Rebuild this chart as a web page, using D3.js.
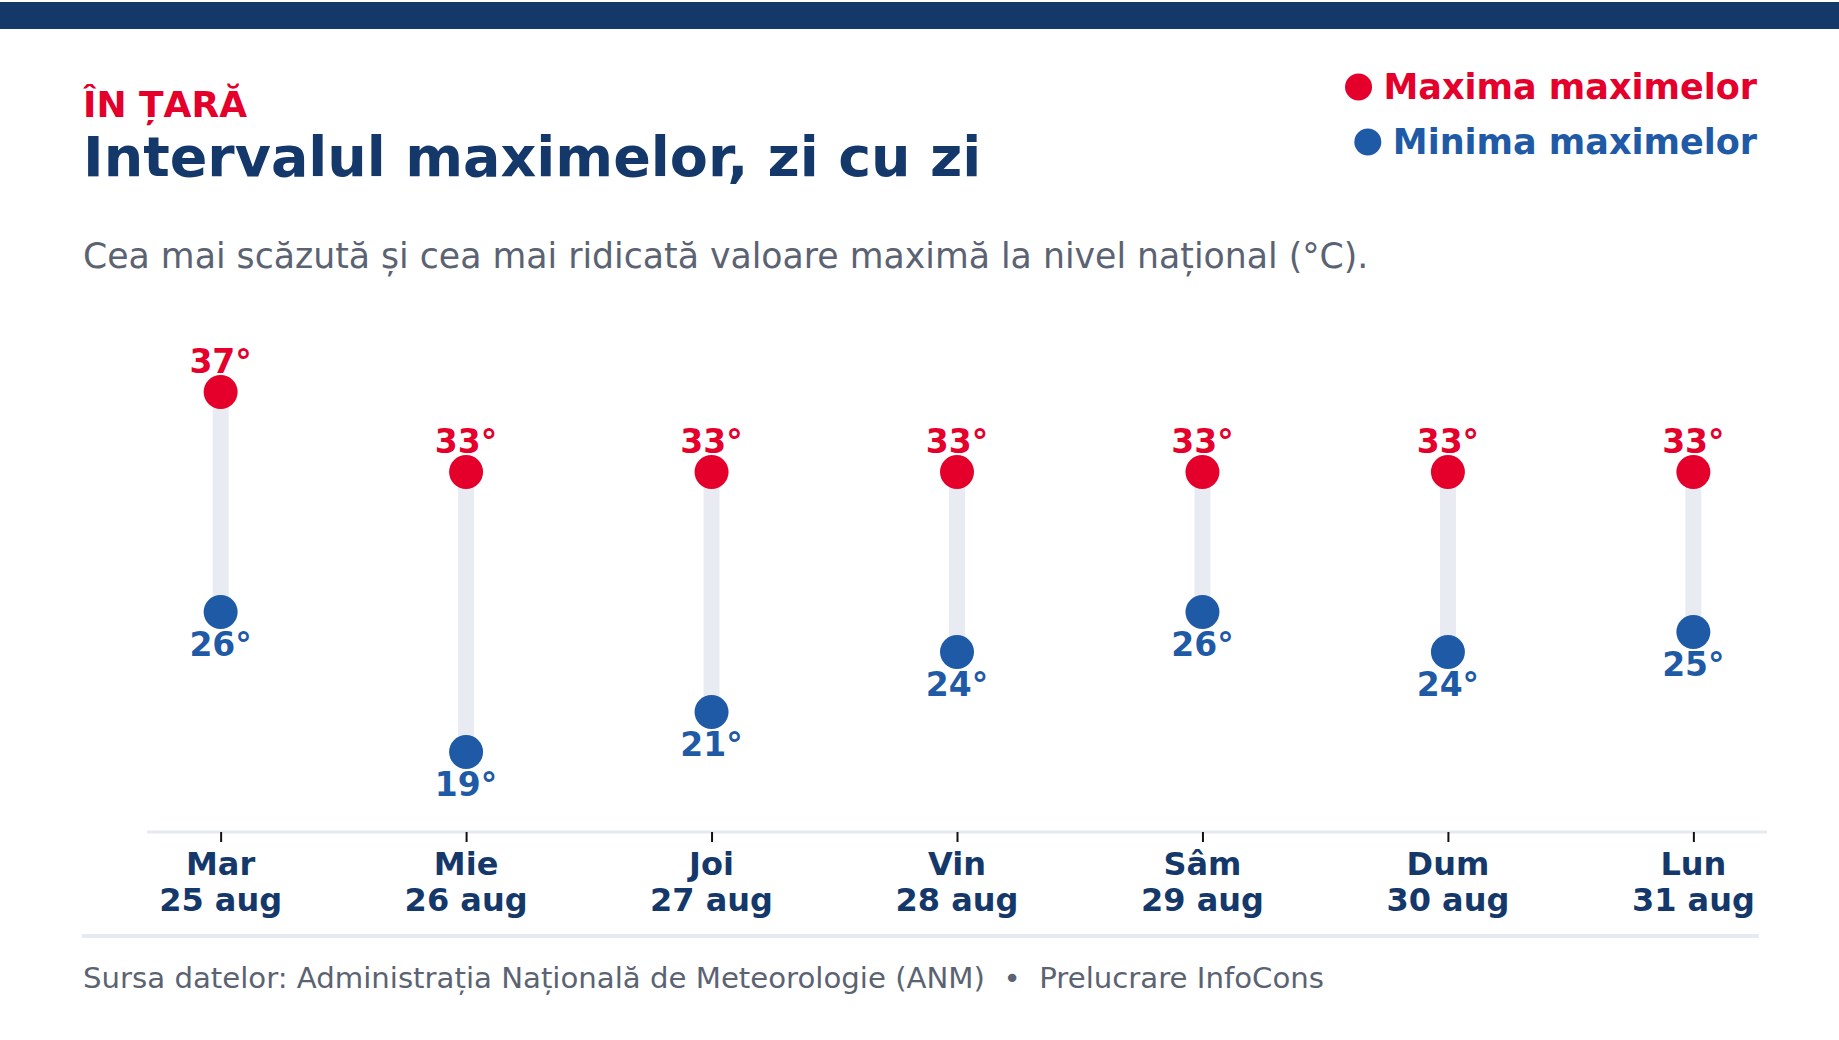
<!DOCTYPE html>
<html>
<head>
<meta charset="utf-8">
<script src="https://cdn.jsdelivr.net/npm/d3@7"></script>
<style>
  body { margin: 0; background: #fff; }
  svg { display: block; font-family: "DejaVu Sans", sans-serif; }
</style>
</head>
<body>
<svg id="canvas" width="1839" height="1040"></svg>
<script>
// data
let days = ["Mar", "Mie", "Joi", "Vin", "Sâm", "Dum", "Lun"];
let dates = ["25 aug", "26 aug", "27 aug", "28 aug", "29 aug", "30 aug", "31 aug"];
let maxTemps = [37, 33, 33, 33, 33, 33, 33];
let minTemps = [26, 19, 21, 24, 26, 24, 25];

let red = "#e4002b", blue = "#1f5aa6", navy = "#15386b", grey = "#5b6373";

let canvas = d3.select("#canvas");

// top band
canvas.append("rect")
    .attr("x", 0).attr("y", 2)
    .attr("width", 1839).attr("height", 27)
    .attr("fill", navy);

// headings
canvas.append("text")
    .attr("x", 83).attr("y", 117)
    .attr("fill", red).style("font-size", "36px").style("font-weight", "bold")
    .text("ÎN ȚARĂ");
canvas.append("text")
    .attr("x", 83).attr("y", 176)
    .attr("fill", navy).style("font-size", "55.5px").style("font-weight", "bold")
    .text("Intervalul maximelor, zi cu zi");
canvas.append("text")
    .attr("x", 83).attr("y", 268)
    .attr("fill", grey).style("font-size", "34.7px")
    .text("Cea mai scăzută și cea mai ridicată valoare maximă la nivel național (°C).");

// legend
let legend = [
    { label: "Maxima maximelor", color: red, y: 99 },
    { label: "Minima maximelor", color: blue, y: 154 }
];
legend.forEach((l) => {
    let t = canvas.append("text")
        .attr("x", 1757).attr("y", l.y)
        .attr("text-anchor", "end")
        .attr("fill", l.color).style("font-size", "35px").style("font-weight", "bold")
        .text(l.label);
    let w = t.node().getComputedTextLength();
    canvas.append("circle")
        .attr("cx", 1757 - w - 25).attr("cy", l.y - 12)
        .attr("r", 13.5)
        .attr("fill", l.color);
});

// scales
let x = d3.scalePoint()
    .domain(days)
    .range([147, 1767])
    .padding(0.3);

let y = d3.scaleLinear()
    .domain([15, 40])
    .range([832, 332]);

let rows = days.map((d, i) => ({ day: d, date: dates[i], hi: maxTemps[i], lo: minTemps[i] }));

// stems
canvas.append("g").selectAll("line")
    .data(rows)
    .join("line")
    .attr("x1", (d) => x(d.day)).attr("x2", (d) => x(d.day))
    .attr("y1", (d) => y(d.hi)).attr("y2", (d) => y(d.lo))
    .attr("stroke", "#e8ebf2").attr("stroke-width", 16);

// x axis
let xAxis = canvas.append("g")
    .attr("transform", "translate(0,832)")
    .call(d3.axisBottom(x).tickSize(10).tickFormat(""));
xAxis.select(".domain").attr("stroke", "#e6e9ef").attr("stroke-width", 3)
    .attr("d", "M147,0H1767");
xAxis.selectAll(".tick line").attr("stroke", "#111").attr("stroke-width", 2);

let labels = canvas.append("g").selectAll("text")
    .data(rows)
    .join("text")
    .attr("x", (d) => x(d.day))
    .attr("text-anchor", "middle")
    .attr("fill", navy).style("font-size", "32px").style("font-weight", "bold");
labels.append("tspan").attr("x", (d) => x(d.day)).attr("y", 875).text((d) => d.day);
labels.append("tspan").attr("x", (d) => x(d.day)).attr("y", 911).text((d) => d.date);

// dots
canvas.append("g").selectAll("circle")
    .data(rows)
    .join("circle")
    .attr("cx", (d) => x(d.day)).attr("cy", (d) => y(d.hi))
    .attr("r", 17).attr("fill", red);
canvas.append("g").selectAll("circle")
    .data(rows)
    .join("circle")
    .attr("cx", (d) => x(d.day)).attr("cy", (d) => y(d.lo))
    .attr("r", 17).attr("fill", blue);

// value labels
canvas.append("g").selectAll("text")
    .data(rows)
    .join("text")
    .attr("x", (d) => x(d.day)).attr("y", (d) => y(d.hi) - 19)
    .attr("text-anchor", "middle")
    .attr("fill", red).style("font-size", "33px").style("font-weight", "bold")
    .text((d) => d.hi + "°");
canvas.append("g").selectAll("text")
    .data(rows)
    .join("text")
    .attr("x", (d) => x(d.day)).attr("y", (d) => y(d.lo) + 44)
    .attr("text-anchor", "middle")
    .attr("fill", blue).style("font-size", "33px").style("font-weight", "bold")
    .text((d) => d.lo + "°");

// footer
canvas.append("rect")
    .attr("x", 82).attr("y", 934)
    .attr("width", 1677).attr("height", 4)
    .attr("fill", "#e8eaf1");
canvas.append("text")
    .attr("x", 83).attr("y", 988)
    .attr("fill", grey).style("font-size", "29.2px")
    .text("Sursa datelor: Administrația Națională de Meteorologie (ANM)  •  Prelucrare InfoCons")
    .attr("xml:space", "preserve").style("white-space", "pre");
</script>
</body>
</html>
